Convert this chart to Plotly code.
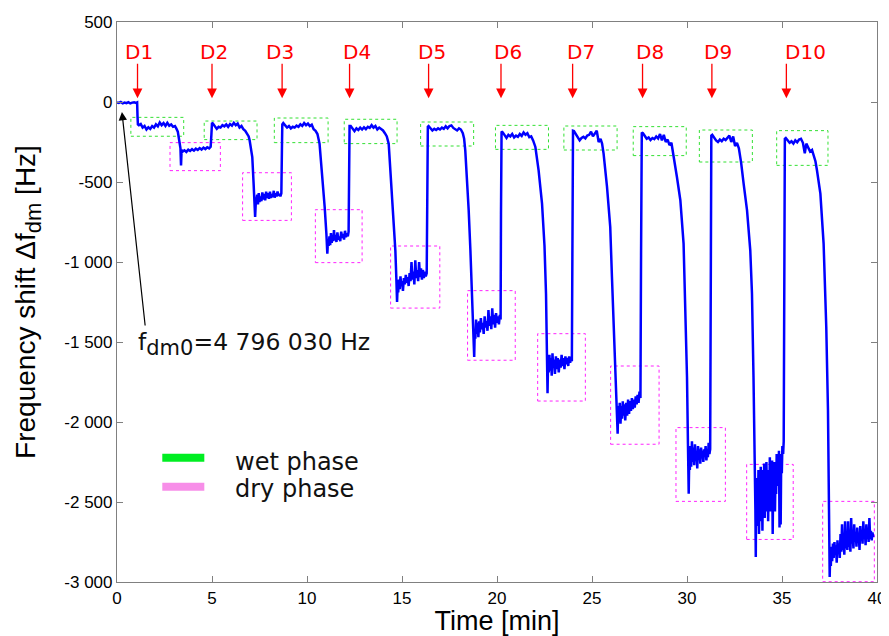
import plotly.graph_objects as go

t_c0 = [0, 0.1, 0.2, 0.3, 0.4, 0.5, 0.6, 0.7, 0.8, 0.9, 1.0, 1.06]
f_c0 = [-2, -6, 0, -8, -3, -7, -1, -9, -4, -2, -6, -3]

t_c1 = [1.08, 1.1, 1.15, 1.25, 1.35, 1.45, 1.55, 1.65, 1.75, 1.85, 1.95, 2.05, 2.15, 2.25, 2.35, 2.45,
        2.55, 2.65, 2.75, 2.85, 2.95, 3.05, 3.12, 3.2, 3.26, 3.3, 3.34, 3.37, 3.4,
        3.45, 3.55, 3.65, 3.75, 3.85, 3.95, 4.05, 4.15, 4.25, 4.35, 4.45, 4.55, 4.65, 4.75, 4.85, 4.93]
f_c1 = [-90, -140, -145, -138, -160, -150, -172, -158, -168, -150, -160, -140, -152, -128, -145, -132,
        -150, -130, -148, -140, -155, -150, -165, -185, -230, -271, -290, -396, -300,
        -310, -302, -312, -298, -306, -295, -304, -292, -300, -288, -297, -285, -294, -283, -290, -280]

t_c2 = [4.97, 5.0, 5.05, 5.15, 5.25, 5.35, 5.45, 5.55, 5.65, 5.75, 5.85, 5.95, 6.05, 6.15, 6.25, 6.35,
        6.45, 6.55, 6.65, 6.75, 6.85, 6.93, 6.98, 7.05, 7.12, 7.19, 7.24, 7.27, 7.3,
        7.34, 7.38, 7.42, 7.46, 7.5, 7.55, 7.6, 7.65, 7.7, 7.75, 7.8, 7.85, 7.9, 7.95, 8.0, 8.05,
        8.1, 8.15, 8.2, 8.25, 8.3, 8.35, 8.4, 8.45, 8.5, 8.55, 8.6, 8.65]
f_c2 = [-200, -130, -135, -150, -168, -155, -160, -145, -152, -140, -155, -138, -148, -130, -145, -135,
        -160, -150, -170, -180, -200, -215, -239, -290, -344, -510, -600, -719, -640,
        -620, -580, -640, -570, -625, -590, -620, -565, -610, -575, -615, -560, -600, -570, -605, -560,
        -600, -575, -595, -555, -598, -570, -590, -560, -585, -575, -590, -570]

t_c3 = [8.68, 8.7, 8.75, 8.85, 8.95, 9.05, 9.15, 9.25, 9.35, 9.45, 9.55, 9.65, 9.75, 9.85, 9.95, 10.05,
        10.15, 10.25, 10.35, 10.45, 10.55, 10.66, 10.8, 10.93, 11.02, 11.07, 11.1,
        11.14, 11.18, 11.22, 11.26, 11.3, 11.34, 11.38, 11.42, 11.46, 11.5, 11.55, 11.6, 11.65, 11.7,
        11.75, 11.8, 11.85, 11.9, 11.95, 12.0, 12.05, 12.1, 12.15, 12.19]
f_c3 = [-300, -140, -132, -145, -160, -150, -165, -155, -160, -148, -155, -140, -150, -132, -145, -135,
        -150, -142, -170, -180, -200, -260, -448, -656, -823, -948, -880,
        -900, -840, -895, -820, -880, -835, -870, -800, -865, -830, -875, -815, -860, -840,
        -870, -810, -850, -825, -860, -805, -845, -820, -840, -810]

t_c4 = [12.22, 12.24, 12.3, 12.4, 12.5, 12.6, 12.7, 12.8, 12.9, 13.0, 13.1, 13.2, 13.3, 13.4, 13.5, 13.6,
        13.7, 13.8, 13.9, 14.0, 14.1, 14.2, 14.3, 14.38, 14.47, 14.56, 14.65, 14.7, 14.74, 14.77,
        14.8, 14.84, 14.88, 14.92, 14.96, 15.0, 15.05, 15.1, 15.15, 15.2, 15.25, 15.3, 15.35, 15.4,
        15.45, 15.5, 15.55, 15.6, 15.65, 15.7, 15.75, 15.8, 15.85, 15.9, 15.95, 16.0, 16.05, 16.1,
        16.15, 16.2, 16.25, 16.3]
f_c4 = [-400, -150, -150, -170, -182, -165, -175, -160, -172, -158, -170, -155, -162, -145, -160, -150,
        -172, -160, -168, -178, -195, -215, -260, -406, -573, -740, -927, -1094, -1250, -1150,
        -1190, -1110, -1170, -1090, -1150, -1120, -1180, -1100, -1140, -1080, -1130, -1095, -1150, -1070,
        -1120, -1000, -1110, -1060, -1140, -990, -1100, -1050, -1120, -1000, -1095, -1040, -1110, -1050,
        -1100, -1060, -1090, -1070]

t_c5 = [16.33, 16.36, 16.4, 16.5, 16.6, 16.7, 16.8, 16.9, 17.0, 17.1, 17.2, 17.3, 17.4, 17.5, 17.6, 17.7,
        17.8, 17.9, 18.0, 18.1, 18.2, 18.27, 18.33, 18.42, 18.51, 18.6, 18.68, 18.74, 18.8, 18.83,
        18.86, 18.9, 18.94, 18.98, 19.02, 19.06, 19.1, 19.15, 19.2, 19.25, 19.3, 19.35, 19.4, 19.45,
        19.5, 19.55, 19.6, 19.65, 19.7, 19.75, 19.8, 19.85, 19.9, 19.95, 20.0, 20.05, 20.1, 20.15, 20.19]
f_c5 = [-500, -155, -150, -165, -178, -168, -175, -165, -172, -160, -168, -152, -165, -150, -146, -162,
        -170, -178, -165, -172, -195, -230, -302, -469, -677, -927, -1156, -1344, -1594, -1420,
        -1480, -1360, -1450, -1380, -1470, -1370, -1440, -1350, -1420, -1380, -1450, -1340, -1410, -1370,
        -1430, -1300, -1400, -1340, -1420, -1290, -1390, -1330, -1410, -1320, -1380, -1340, -1390, -1330, -1360]

t_c6 = [20.21, 20.24, 20.3, 20.4, 20.5, 20.6, 20.7, 20.8, 20.9, 21.0, 21.1, 21.2, 21.3, 21.4, 21.5, 21.6,
        21.7, 21.8, 21.9, 22.02, 22.19, 22.37, 22.5, 22.58, 22.62, 22.66, 22.69,
        22.72, 22.76, 22.8, 22.84, 22.88, 22.92, 22.96, 23.0, 23.05, 23.1, 23.15, 23.2, 23.25, 23.3,
        23.35, 23.4, 23.45, 23.5, 23.55, 23.6, 23.65, 23.7, 23.75, 23.8, 23.85, 23.9, 23.94]
f_c6 = [-700, -185, -190, -210, -225, -205, -215, -200, -222, -210, -218, -200, -212, -190, -205, -195,
        -220, -215, -240, -281, -427, -635, -900, -1200, -1500, -1820, -1600,
        -1690, -1580, -1680, -1600, -1710, -1570, -1660, -1610, -1700, -1590, -1670, -1600, -1690, -1610,
        -1660, -1580, -1650, -1600, -1670, -1590, -1640, -1600, -1650, -1590, -1630, -1600, -1620]

t_c7 = [23.97, 24.0, 24.05, 24.15, 24.25, 24.35, 24.45, 24.55, 24.65, 24.75, 24.85, 24.95, 25.05, 25.15,
        25.25, 25.35, 25.45, 25.53, 25.61, 25.79, 25.96, 26.05, 26.14, 26.23, 26.28, 26.35, 26.38,
        26.42, 26.46, 26.5, 26.54, 26.58, 26.62, 26.66, 26.7, 26.75, 26.8, 26.85, 26.9, 26.95, 27.0,
        27.05, 27.1, 27.15, 27.2, 27.25, 27.3, 27.35, 27.4, 27.45, 27.5, 27.55]
f_c7 = [-900, -180, -182, -200, -215, -240, -225, -218, -228, -210, -205, -185, -215, -200,
        -180, -250, -230, -260, -323, -531, -781, -1094, -1406, -1719, -1885, -2073, -1900,
        -1990, -1880, -2010, -1900, -1980, -1870, -1960, -1890, -1990, -1880, -1960, -1860, -1950, -1870,
        -1930, -1850, -1920, -1860, -1910, -1840, -1890, -1830, -1880, -1810, -1850]

t_c8 = [27.58, 27.62, 27.68, 27.78, 27.88, 27.98, 28.08, 28.18, 28.28, 28.38, 28.48, 28.58, 28.68, 28.78,
        28.88, 28.98, 29.08, 29.18, 29.25, 29.3, 29.47, 29.65, 29.82, 29.91, 30.0, 30.05, 30.09, 30.12,
        30.15, 30.18, 30.22, 30.26, 30.3, 30.34, 30.38, 30.42, 30.46, 30.5, 30.54, 30.58, 30.62, 30.66,
        30.7, 30.74, 30.78, 30.82, 30.86, 30.9, 30.94, 30.98, 31.02, 31.06, 31.1, 31.14, 31.18, 31.22]
f_c8 = [-1000, -190, -195, -210, -230, -222, -238, -225, -232, -215, -228, -200, -240, -205,
        -250, -235, -270, -255, -300, -344, -469, -614, -885, -1302, -1719, -2135, -2448, -2200,
        -2300, -2150, -2280, -2120, -2250, -2160, -2270, -2140, -2240, -2180, -2290, -2150, -2230, -2170,
        -2260, -2160, -2220, -2180, -2250, -2170, -2210, -2150, -2240, -2190, -2220, -2130, -2200, -2170]

t_c9 = [31.25, 31.28, 31.33, 31.43, 31.53, 31.63, 31.73, 31.83, 31.93, 32.03, 32.13, 32.23, 32.33, 32.43,
        32.53, 32.63, 32.73, 32.8, 32.85, 32.98, 33.16, 33.33, 33.42, 33.5, 33.56, 33.6, 33.62, 33.64,
        33.67, 33.7, 33.73, 33.76, 33.79, 33.82, 33.85, 33.88, 33.91, 33.94, 33.97, 34.0, 34.03, 34.06,
        34.09, 34.12, 34.15, 34.18, 34.21, 34.24, 34.27, 34.3, 34.33, 34.36, 34.39, 34.42, 34.45, 34.48,
        34.51, 34.54, 34.57, 34.6, 34.63, 34.66, 34.69, 34.72, 34.75, 34.78, 34.81, 34.84, 34.87, 34.9,
        34.93, 34.96, 34.99, 35.02, 35.06, 35.09]
f_c9 = [-1200, -210, -205, -225, -240, -250, -235, -245, -230, -238, -222, -210, -250, -215,
        -275, -255, -290, -330, -380, -510, -677, -927, -1198, -1719, -2135, -2552, -2844, -2400,
        -2650, -2350, -2600, -2300, -2700, -2420, -2620, -2280, -2550, -2350, -2680, -2300, -2520, -2260,
        -2600, -2380, -2560, -2250, -2500, -2300, -2620, -2350, -2480, -2220, -2560, -2330, -2500, -2240,
        -2700, -2300, -2460, -2250, -2560, -2320, -2450, -2200, -2380, -2260, -2400, -2180, -2660, -2220,
        -2640, -2200, -2320, -2150, -2200, -2120]

t_c10 = [35.12, 35.15, 35.2, 35.3, 35.4, 35.5, 35.6, 35.7, 35.8, 35.9, 36.0, 36.1, 36.2, 36.28, 36.38,
         36.48, 36.58, 36.68, 36.76, 36.84, 37.02, 37.19, 37.33, 37.42, 37.47, 37.51, 37.54,
         37.57, 37.6, 37.64, 37.68, 37.72, 37.76, 37.8, 37.84, 37.88, 37.92, 37.96, 38.0, 38.04, 38.08,
         38.12, 38.16, 38.2, 38.24, 38.28, 38.32, 38.36, 38.4, 38.44, 38.48, 38.52, 38.56, 38.6, 38.64,
         38.68, 38.72, 38.76, 38.8, 38.84, 38.88, 38.92, 38.96, 39.0, 39.04, 39.08, 39.12, 39.16, 39.2,
         39.24, 39.28, 39.32, 39.36, 39.4, 39.44, 39.48, 39.52, 39.56, 39.6, 39.64, 39.68, 39.72, 39.76, 39.8]
f_c10 = [-1300, -230, -225, -240, -255, -245, -260, -240, -252, -235, -230, -255, -320, -260, -290,
         -310, -300, -340, -370, -427, -573, -885, -1406, -1927, -2552, -2969, -2800,
         -2900, -2780, -2870, -2760, -2850, -2750, -2830, -2770, -2880, -2740, -2820, -2760, -2850, -2700,
         -2810, -2640, -2800, -2750, -2830, -2620, -2790, -2720, -2800, -2620, -2780, -2720, -2810, -2600,
         -2760, -2700, -2790, -2640, -2750, -2690, -2780, -2660, -2740, -2700, -2800, -2650, -2740, -2690,
         -2760, -2620, -2730, -2680, -2770, -2640, -2720, -2690, -2750, -2600, -2730, -2680, -2740, -2690, -2720]

# phase boxes
wet_t0 = [0.73, 4.59, 8.28, 11.96, 15.98, 19.92, 23.52, 27.17, 30.65, 34.72]
wet_t1 = [3.51, 7.37, 11.11, 14.74, 18.77, 22.71, 26.32, 29.96, 33.44, 37.42]
wet_top = [-96, -119, -100, -108, -125, -146, -150, -154, -175, -179]
wet_bot = [-214, -235, -254, -260, -275, -296, -300, -335, -375, -396]
dry_t0 = [2.79, 6.61, 10.44, 14.40, 18.45, 22.14, 25.98, 29.42, 33.14, 37.14]
dry_t1 = [5.44, 9.18, 12.90, 16.99, 20.96, 24.65, 28.53, 32.02, 35.59, 39.86]
dry_top = [-254, -442, -673, -900, -1179, -1448, -1650, -2035, -2265, -2496]
dry_bot = [-429, -740, -1004, -1288, -1614, -1869, -2139, -2496, -2734, -2998]

# droplet markers
drop_names = ["D1", "D2", "D3", "D4", "D5", "D6", "D7", "D8", "D9", "D10"]
drop_t = [1.08, 5.0, 8.69, 12.24, 16.40, 20.21, 23.98, 27.66, 31.31, 35.23]
label_t = [1.14, 5.13, 8.59, 12.63, 16.59, 20.59, 24.4, 28.04, 31.62, 36.23]

yticks = [500, 0, -500, -1000, -1500, -2000, -2500, -3000]
ytext = ["500", "0", "-500", "-1 000", "-1 500", "-2 000", "-2 500", "-3 000"]
xticks = [0, 5, 10, 15, 20, 25, 30, 35, 40]

t_all = t_c0 + t_c1 + t_c2 + t_c3 + t_c4 + t_c5 + t_c6 + t_c7 + t_c8 + t_c9 + t_c10
f_all = f_c0 + f_c1 + f_c2 + f_c3 + f_c4 + f_c5 + f_c6 + f_c7 + f_c8 + f_c9 + f_c10

fig = go.Figure()
fig.add_trace(go.Scatter(x=t_all, y=f_all, mode="lines",
                         line=dict(color="#0000ff", width=2.5), showlegend=False))

for i in range(len(wet_t0)):
    fig.add_shape(type="rect", x0=wet_t0[i], x1=wet_t1[i], y0=wet_bot[i], y1=wet_top[i],
                  line=dict(color="#33e033", width=1, dash="dot"), layer="below")
    fig.add_shape(type="rect", x0=dry_t0[i], x1=dry_t1[i], y0=dry_bot[i], y1=dry_top[i],
                  line=dict(color="#ff22ff", width=1, dash="dot"), layer="below")

vfont = "DejaVu Sans, Verdana, sans-serif"
for name, ta, tl in zip(drop_names, drop_t, label_t):
    fig.add_annotation(x=ta, y=23, ax=ta, ay=248, xref="x", yref="y", axref="x", ayref="y",
                       text="", showarrow=True, arrowhead=2, arrowsize=1.5, arrowwidth=1.3,
                       arrowcolor="#ff0000")
    fig.add_annotation(x=tl, y=310, text=name, showarrow=False,
                       font=dict(family=vfont, size=20, color="#ff0000"))

# f_dm0 pointer
fig.add_annotation(x=0.26, y=-62, ax=1.49, ay=-1406, xref="x", yref="y", axref="x", ayref="y",
                   text="", showarrow=True, arrowhead=2, arrowsize=1.4, arrowwidth=1.2,
                   arrowcolor="#000000")
fig.add_annotation(x=1.0, y=-1510,
                   text="f<sub><span style='font-size:21px'>dm0</span></sub>=4 796 030 Hz",
                   showarrow=False, xanchor="left", yanchor="middle",
                   font=dict(family=vfont, size=23.5, color="#111111"))

# hand-made legend
fig.add_shape(type="line", xref="paper", yref="paper", x0=0.0596, x1=0.1149, y0=0.222, y1=0.222,
              line=dict(color="#00ee22", width=8))
fig.add_shape(type="line", xref="paper", yref="paper", x0=0.0596, x1=0.1149, y0=0.170, y1=0.170,
              line=dict(color="#f78ee8", width=8))
fig.add_annotation(xref="paper", yref="paper", x=0.153, y=0.2148, text="wet phase", showarrow=False,
                   xanchor="left", yanchor="middle", font=dict(family=vfont, size=24, color="#111111"))
fig.add_annotation(xref="paper", yref="paper", x=0.153, y=0.166, text="dry phase", showarrow=False,
                   xanchor="left", yanchor="middle", font=dict(family=vfont, size=24, color="#111111"))

afont = "Liberation Sans, Arial, sans-serif"
fig.update_xaxes(range=[0, 40], tickvals=xticks, ticks="inside", ticklen=6, tickcolor="#808080",
                 showline=True, linecolor="#808080", linewidth=1.2, mirror="ticks", showgrid=False,
                 zeroline=False, automargin=False, tickfont=dict(family=afont, size=17, color="#000000"),
                 title=dict(text="Time [min]", font=dict(family=afont, size=27, color="#000000"),
                            standoff=1))
fig.update_yaxes(range=[-3000, 500], tickvals=yticks, ticktext=ytext, ticks="inside", ticklen=6,
                 tickcolor="#808080", showline=True, linecolor="#808080", linewidth=1.2,
                 mirror="ticks", showgrid=False, zeroline=False, automargin=False,
                 tickfont=dict(family=afont, size=17, color="#000000"),
                 title=dict(text="Frequency shift \u0394f<sub><span style='font-size:22px'>dm</span></sub> [Hz]",
                            font=dict(family=afont, size=28, color="#000000"), standoff=20))
# the page body adds an 8 px offset, so the figure is a bit smaller than the window
fig.update_layout(width=881, height=628, margin=dict(l=109, r=12, t=14, b=54),
                  paper_bgcolor="white", plot_bgcolor="white")

fig.write_html("out.html")
